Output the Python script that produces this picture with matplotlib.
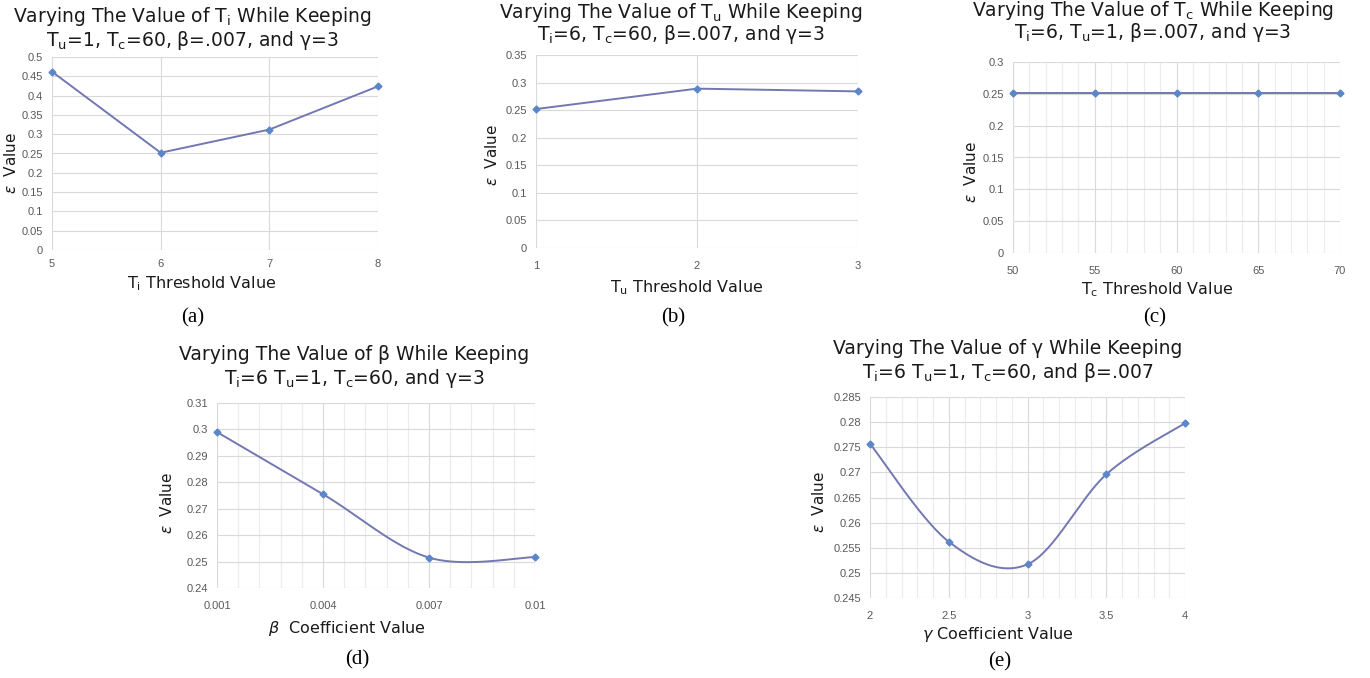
import numpy as np
import matplotlib
matplotlib.use("Agg")
import matplotlib.pyplot as plt
from matplotlib.ticker import MultipleLocator, FixedLocator, FuncFormatter

# ---------------- data ----------------
ti_x = [5, 6, 7, 8]
ti_y = [0.462, 0.252, 0.312, 0.424]

tu_x = [1, 2, 3]
tu_y = [0.252, 0.289, 0.284]

tc_x = [50, 55, 60, 65, 70]
tc_y = [0.251, 0.251, 0.251, 0.251, 0.251]

beta_x = [0.001, 0.004, 0.007, 0.01]
beta_y = [0.299, 0.2755, 0.2515, 0.2517]
beta_ticks = ["0.001", "0.004", "0.007", "0.01"]

gamma_x = [2, 2.5, 3, 3.5, 4]
gamma_y = [0.2757, 0.2562, 0.2517, 0.2696, 0.2798]
gamma_ticks = ["2", "2.5", "3", "3.5", "4"]

LINE = "#7377b2"
MARK = "#5b87c8"
W, H = 1370, 678

fig = plt.figure(figsize=(W / 100, H / 100), dpi=100)
fig.patch.set_facecolor("white")

TITLE_FONT = "DejaVu Sans"
TICK_FONT = "Liberation Sans"


def axes_px(l, r, t, b):
    return fig.add_axes([l / W, 1 - b / H, (r - l) / W, (b - t) / H])


def smooth(x, y, n=60):
    # Excel-style smoothed line (Bezier with 1/6 tangents)
    x = np.asarray(x, float)
    y = np.asarray(y, float)
    xs = (x - x.min()) / (x.max() - x.min())
    ys = (y - y.min()) / (y.max() - y.min())
    px, py = [], []
    m = len(x)
    for i in range(m - 1):
        p0 = np.array([xs[i], ys[i]])
        p3 = np.array([xs[i + 1], ys[i + 1]])
        pm = np.array([xs[max(i - 1, 0)], ys[max(i - 1, 0)]])
        pp = np.array([xs[min(i + 2, m - 1)], ys[min(i + 2, m - 1)]])
        c1 = p0 + (p3 - pm) / 6
        c2 = p3 - (pp - p0) / 6
        t = np.linspace(0, 1, n)[:, None]
        pts = ((1 - t) ** 3) * p0 + 3 * ((1 - t) ** 2) * t * c1 + 3 * (1 - t) * t ** 2 * c2 + t ** 3 * p3
        px.append(pts[:, 0])
        py.append(pts[:, 1])
    px = np.concatenate(px) * (x.max() - x.min()) + x.min()
    py = np.concatenate(py) * (y.max() - y.min()) + y.min()
    return px, py


gfmt = FuncFormatter(lambda v, p: ("%.4f" % v).rstrip("0").rstrip("."))


def style(ax, xlim, ylim, ystep, xmajor, xminor=None, xlabels=None, xpad=9.5):
    ax.set_xlim(*xlim)
    ax.set_ylim(*ylim)
    ax.yaxis.set_major_locator(MultipleLocator(ystep))
    ax.yaxis.set_major_formatter(gfmt)
    ax.xaxis.set_major_locator(FixedLocator(xmajor))
    if xlabels is not None:
        ax.set_xticklabels(xlabels)
    if xminor is not None:
        ax.xaxis.set_minor_locator(FixedLocator(xminor))
        ax.grid(True, which="minor", axis="x", color="#ececec", lw=0.8)
    ax.grid(True, which="major", color="#d9d9d9", lw=0.8)
    ax.set_axisbelow(True)
    for s in ax.spines.values():
        s.set_visible(False)
    ax.tick_params(which="both", length=0, labelsize=8, labelcolor="#595959")
    ax.tick_params(axis="y", pad=6.5)
    ax.tick_params(axis="x", pad=xpad)
    for lab in ax.get_xticklabels() + ax.get_yticklabels():
        lab.set_fontfamily(TICK_FONT)


def plot_line(ax, x, y, smooth_it=False):
    if smooth_it:
        sx, sy = smooth(x, y)
        ax.plot(sx, sy, color=LINE, lw=1.4, clip_on=False, zorder=3)
    else:
        ax.plot(x, y, color=LINE, lw=1.4, clip_on=False, zorder=3)
    ax.plot(x, y, ls="none", marker="D", ms=3.5, color=MARK, clip_on=False, zorder=4)


def fig_text(x, y, s, **kw):
    fig.text(x / W, 1 - y / H, s, ha="center", va="center", **kw)


def title(cx, y1, y2, l1, l2):
    fig_text(cx, y1, l1, fontsize=13.5, family=TITLE_FONT, color="#1a1a1a")
    fig_text(cx, y2, l2, fontsize=13.5, family=TITLE_FONT, color="#1a1a1a")


def xlab(x, y, s):
    fig_text(x, y, s, fontsize=11.5, family=TITLE_FONT, color="#1a1a1a")


def ylab(x, y):
    fig.text(x / W, 1 - y / H, r"$\varepsilon$  Value", rotation=90, ha="center", va="center",
             fontsize=11, family=TITLE_FONT, color="#1a1a1a")


def panel(x, y, s):
    fig_text(x, y, s, fontsize=15, family="Liberation Serif", color="black")


# ---------- (a) ----------
ax = axes_px(52, 378, 57, 250)
plot_line(ax, ti_x, ti_y)
style(ax, (5, 8), (0, 0.5), 0.05, ti_x, xpad=6.5)
title(192, 17, 41, r"Varying The Value of $\mathregular{T_i}$ While Keeping",
      r"$\mathregular{T_u}$=1, $\mathregular{T_c}$=60, β=.007, and γ=3")
xlab(202, 284, r"$\mathregular{T_i}$ Threshold Value")
ylab(11, 163)
panel(193, 318, "(a)")

# ---------- (b) ----------
ax = axes_px(536, 858, 55, 248)
plot_line(ax, tu_x, tu_y)
style(ax, (1, 3), (0, 0.35), 0.05, tu_x)
title(681, 12, 35, r"Varying The Value of $\mathregular{T_u}$ While Keeping",
      r"$\mathregular{T_i}$=6, $\mathregular{T_c}$=60, β=.007, and γ=3")
xlab(687, 288, r"$\mathregular{T_u}$ Threshold Value")
ylab(492, 155)
panel(673, 318, "(b)")

# ---------- (c) ----------
ax = axes_px(1013, 1340, 62, 253)
plot_line(ax, tc_x, tc_y)
style(ax, (50, 70), (0, 0.3), 0.05, tc_x, xminor=list(range(50, 71)))
title(1153, 10, 33, r"Varying The Value of $\mathregular{T_c}$ While Keeping",
      r"$\mathregular{T_i}$=6, $\mathregular{T_u}$=1, β=.007, and γ=3")
xlab(1157, 290, r"$\mathregular{T_c}$ Threshold Value")
ylab(971, 172)
panel(1155, 318, "(c)")

# ---------- (d) ----------
ax = axes_px(217, 535, 403, 588)
plot_line(ax, beta_x, beta_y, smooth_it=True)
style(ax, (0.001, 0.01), (0.24, 0.31), 0.01, beta_x,
      xminor=list(np.linspace(0.001, 0.01, 16)), xlabels=beta_ticks)
title(354, 355, 378, r"Varying The Value of β While Keeping",
      r"$\mathregular{T_i}$=6 $\mathregular{T_u}$=1, $\mathregular{T_c}$=60, and γ=3")
xlab(347, 629, r"$\beta$  Coefficient Value")
ylab(167, 503)
panel(357, 660, "(d)")

# ---------- (e) ----------
ax = axes_px(870, 1185, 397, 598)
plot_line(ax, gamma_x, gamma_y, smooth_it=True)
style(ax, (2, 4), (0.245, 0.285), 0.005, gamma_x,
      xminor=list(np.linspace(2, 4, 21)), xlabels=gamma_ticks)
title(1008, 349, 372, r"Varying The Value of γ While Keeping",
      r"$\mathregular{T_i}$=6 $\mathregular{T_u}$=1, $\mathregular{T_c}$=60, and β=.007")
xlab(998, 635, r"$\gamma$ Coefficient Value")
ylab(819, 502)
panel(1000, 662, "(e)")

fig.savefig("out.png", dpi=100, facecolor="white")
